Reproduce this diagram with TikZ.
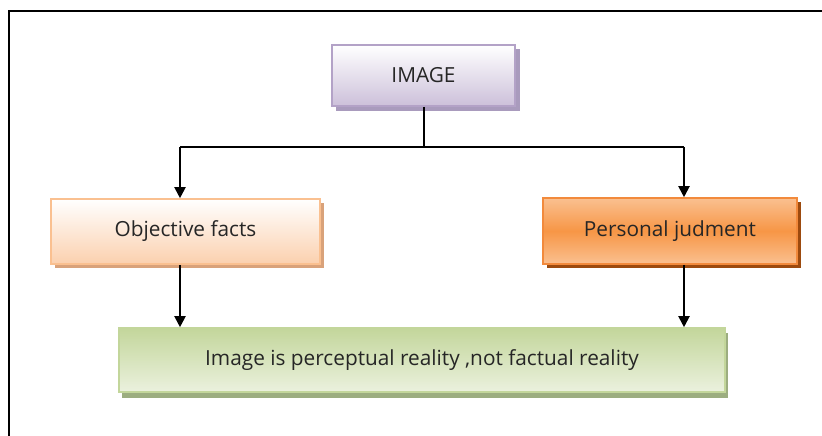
\documentclass[tikz,border=0pt]{standalone}
\usepackage{fontspec}
\setmainfont{Open Sans}
\usetikzlibrary{arrows.meta,shadings}
\definecolor{lavfill}{HTML}{CCC0DA}
\definecolor{lavline}{HTML}{B3A2C7}
\definecolor{lavshadow}{HTML}{A99BBD}
\definecolor{peachfill}{HTML}{FBD0AE}
\definecolor{peachline}{HTML}{FAC090}
\definecolor{peachshadow}{HTML}{D9A27A}
\definecolor{orangefill}{HTML}{F79646}
\definecolor{orangelight}{HTML}{FAC090}
\definecolor{orangeline}{HTML}{F28A3C}
\definecolor{orangeshadow}{HTML}{9C4A0E}
\definecolor{greenfill}{HTML}{C3D69B}
\definecolor{greenlight}{HTML}{EBF1DE}
\definecolor{greenline}{HTML}{C3D69B}
\definecolor{greenshadow}{HTML}{9CAD80}
\definecolor{textgrey}{HTML}{262626}
\tikzset{
  x=1pt,y=1pt,
  boxbase/.style={rectangle, inner sep=0pt, line width=1.6pt, text=textgrey,
    font=\fontsize{20.8}{22}\selectfont},
  topbox/.style={boxbase, draw=lavline, top color=white, bottom color=lavfill,
    minimum width=183pt, minimum height=61pt},
  factbox/.style={boxbase, draw=peachline, top color=white, bottom color=peachfill,
    minimum width=269pt, minimum height=65pt},
  judgebox/.style={boxbase, draw=orangeline, top color=orangelight, bottom color=orangelight,
    middle color=orangefill, minimum width=254pt, minimum height=66pt},
  resultbox/.style={boxbase, draw=greenline, top color=greenfill, bottom color=greenlight,
    minimum width=606pt, minimum height=64pt},
  link/.style={line width=2pt, draw=black},
  arrowlink/.style={link, -{Triangle[length=11pt,width=11pt]}}
}
\begin{document}
\begin{tikzpicture}
\useasboundingbox (0,0) rectangle (822,436);
% frame lines along the top and left
\draw[line width=2.2pt, black] (9,0) -- (9,425) -- (822,425);

% drop shadows
\fill[lavshadow]    (336,436-111) rectangle (520,436-49);
\fill[peachshadow]  (55,436-268)  rectangle (324,436-203);
\fill[orangeshadow] (547,436-268) rectangle (801,436-202);
\fill[greenshadow]  (122,436-398) rectangle (728,436-333);

% boxes
\node[topbox]    (img)    at (423.5,436-75.5)  {IMAGE};
\node[factbox]   (facts)  at (185.5,436-231.5) {Objective facts};
\node[judgebox]  (judge)  at (670,436-231)     {Personal judment};
\node[resultbox] (result) at (422,436-360)     {Image is perceptual reality ,not factual reality};

% connectors
\coordinate (split) at (img.south |- 0,436-147);
\coordinate (leftc)  at (180,436-147);
\coordinate (rightc) at (684,436-147);
\draw[link] (img.south) -- (split);
\draw[link] (leftc) -- (rightc);
\draw[arrowlink] (leftc) -- (leftc |- facts.north);
\draw[arrowlink] (rightc) -- (rightc |- judge.north);
\draw[arrowlink] (leftc |- facts.south) -- (leftc |- result.north);
\draw[arrowlink] (rightc |- judge.south) -- (rightc |- result.north);
\end{tikzpicture}
\end{document}
